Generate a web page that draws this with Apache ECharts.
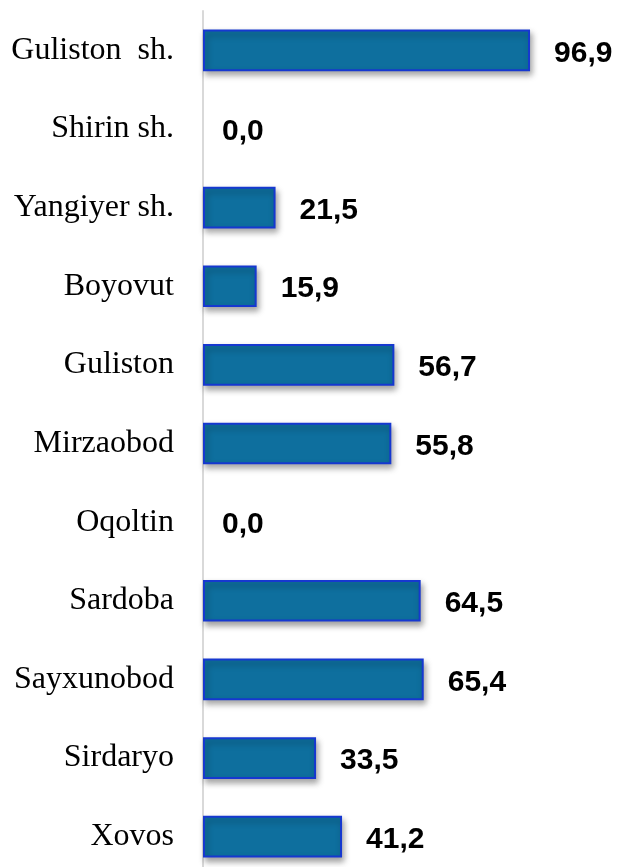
<!DOCTYPE html>
<html>
<head>
<meta charset="utf-8">
<script src="https://cdn.jsdelivr.net/npm/echarts@6/dist/echarts.min.js"></script>
<style>
  html, body { margin: 0; padding: 0; background: #fff; }
  #chart { width: 619px; height: 867px; }
</style>
</head>
<body>
<div id="chart"></div>
<script>
// hududlar (yuqoridan pastga)
const regions = ['Guliston  sh.', 'Shirin sh.', 'Yangiyer sh.', 'Boyovut', 'Guliston', 'Mirzaobod',
  'Oqoltin', 'Sardoba', 'Sayxunobod', 'Sirdaryo', 'Xovos'];
const values = [96.9, 0.0, 21.5, 15.9, 56.7, 55.8, 0.0, 64.5, 65.4, 33.5, 41.2];

const myChart = echarts.init(document.getElementById('chart'), null, { renderer: 'canvas' });

// nol qiymatli ustun ko'rinmaydi, faqat yorlig'i qoladi
const zeroStyle = {
  color: 'rgba(0,0,0,0)',
  borderColor: 'rgba(0,0,0,0)',
  borderWidth: 0,
  shadowColor: 'rgba(0,0,0,0)'
};

const option = {
  backgroundColor: '#ffffff',
  animation: false,
  grid: {
    left: 203,
    top: 11,
    width: 337.5,
    height: 865,
    outerBoundsMode: 'none'
  },
  xAxis: {
    type: 'value',
    min: 0,
    max: 100,
    show: false
  },
  yAxis: {
    type: 'category',
    inverse: true,
    data: regions,
    axisLine: { show: true, lineStyle: { color: '#d9d9d9', width: 2 } },
    axisTick: { show: false },
    axisLabel: {
      margin: 29,
      color: '#000',
      fontFamily: '"Liberation Serif", "Times New Roman", serif',
      fontSize: 32,
      padding: [6, 0, 0, 0]
    }
  },
  series: [
    {
      type: 'bar',
      barWidth: '53%',
      data: values.map(v => v === 0
        ? { value: v, label: { distance: 19 }, itemStyle: zeroStyle }
        : v),
      itemStyle: {
        color: '#0e6f9e',
        borderColor: '#1638d0',
        borderWidth: 2,
        shadowColor: 'rgba(0,0,0,0.35)',
        shadowBlur: 6,
        shadowOffsetX: 2,
        shadowOffsetY: 4
      },
      label: {
        show: true,
        position: 'right',
        distance: 24,
        offset: [0, 3],
        color: '#000',
        fontFamily: '"Liberation Sans", Arial, sans-serif',
        fontWeight: 'bold',
        fontSize: 30,
        formatter: p => p.value.toFixed(1).replace('.', ',')
      }
    }
  ]
};

myChart.setOption(option);
window.addEventListener('resize', () => {
  myChart.resize();
});
</script>
</body>
</html>
